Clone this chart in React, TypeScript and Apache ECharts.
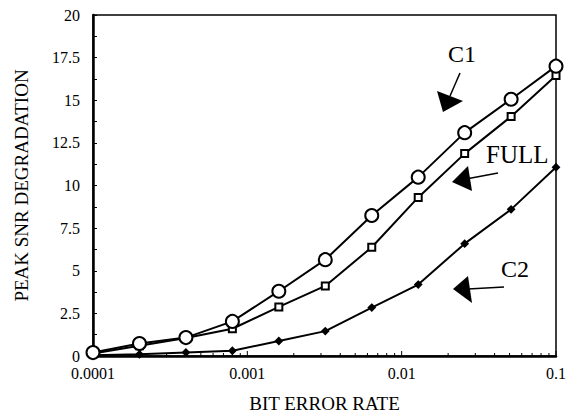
import React, { useEffect, useRef } from "react";
import * as echarts from "echarts";

const berValues = [0.0001, 0.0002, 0.0004, 0.0008, 0.0016, 0.0032, 0.0064, 0.0128, 0.0256, 0.0512, 0.1];
const c1Values = [0.2, 0.73, 1.08, 2.03, 3.8, 5.65, 8.24, 10.49, 13.1, 15.06, 17.0];
const fullValues = [0.15, 0.6, 1.05, 1.6, 2.88, 4.11, 6.38, 9.3, 11.87, 14.05, 16.45];
const c2Values = [0.05, 0.1, 0.21, 0.31, 0.88, 1.46, 2.84, 4.19, 6.59, 8.6, 11.07];
const decades = [0.0001, 0.001, 0.01];
const minorMultipliers = [2, 3, 4, 5, 6, 7, 8, 9];
const majorXTicks = [0.0001, 0.001, 0.01, 0.1];

const FONT = "Liberation Serif";

export default function App() {
  const ref = useRef<HTMLDivElement>(null);
  useEffect(() => {
    if (!ref.current) return;
    const chart = echarts.init(ref.current, null, { renderer: "svg" });
    const pair = (ys: number[]) => berValues.map((x, i) => [x, ys[i]]);
    const minorTicks: number[][] = [];
    decades.forEach((d) => minorMultipliers.forEach((m) => minorTicks.push([d * m, 0, 3])));
    majorXTicks.forEach((d) => minorTicks.push([d, 0, 5]));

    const lineSeries = (name: string, ys: number[], symbol: string, size: number, fill: string) => ({
      type: "line",
      name,
      data: pair(ys),
      symbol,
      symbolSize: size,
      showAllSymbol: true,
      clip: false,
      lineStyle: { color: "#000", width: 2 },
      itemStyle: { color: fill, borderColor: "#000", borderWidth: 2 },
      z: 3,
    });

    chart.setOption({
      animation: false,
      backgroundColor: "#fff",
      grid: {
        left: 93,
        right: 12,
        top: 15,
        bottom: 56,
        show: true,
        borderColor: "#000",
        borderWidth: 1.5,
      },
      xAxis: {
        type: "log",
        logBase: 10,
        min: 0.0001,
        max: 0.1,
        name: "BIT ERROR RATE",
        nameLocation: "middle",
        nameGap: 38,
        nameTextStyle: { fontFamily: FONT, fontSize: 19, color: "#000" },
        axisLine: { show: true, lineStyle: { color: "#000", width: 2.5 } },
        axisTick: { show: false },
        splitLine: { show: false },
        axisLabel: {
          fontFamily: FONT,
          fontSize: 16,
          color: "#000",
          margin: 9,
          formatter: (v: number) => String(Number(v.toPrecision(1))),
        },
      },
      yAxis: {
        type: "value",
        min: 0,
        max: 20,
        interval: 2.5,
        name: "PEAK SNR DEGRADATION",
        nameLocation: "middle",
        nameGap: 62,
        nameTextStyle: { fontFamily: FONT, fontSize: 19, color: "#000" },
        axisLine: { show: true, lineStyle: { color: "#000", width: 2.5 } },
        axisTick: { show: true, inside: true, length: 4, lineStyle: { color: "#000" } },
        minorTick: { show: true, splitNumber: 2, length: 4, lineStyle: { color: "#000" } },
        splitLine: { show: false },
        axisLabel: { fontFamily: FONT, fontSize: 16, color: "#000", margin: 13 },
      },
      series: [
        {
          type: "custom",
          data: minorTicks,
          silent: true,
          z: 1,
          renderItem: (_params: any, api: any) => {
            const p = api.coord([api.value(0), api.value(1)]);
            const len = api.value(2);
            return {
              type: "line",
              shape: { x1: p[0], y1: p[1], x2: p[0], y2: p[1] - len },
              style: { stroke: "#000", lineWidth: 1 },
            };
          },
        },
        lineSeries("C2", c2Values, "diamond", 6, "#000"),
        lineSeries("FULL", fullValues, "rect", 7, "#fff"),
        lineSeries("C1", c1Values, "circle", 13, "#fff"),
      ],
      graphic: [
        { type: "text", left: 448, top: 42, style: { text: "C1", font: `24px ${FONT}`, fill: "#000" } },
        { type: "text", left: 486, top: 142, style: { text: "FULL", font: `25px ${FONT}`, fill: "#000" } },
        { type: "text", left: 501, top: 257, style: { text: "C2", font: `24px ${FONT}`, fill: "#000" } },
        { type: "line", shape: { x1: 460, y1: 73, x2: 450, y2: 96 }, style: { stroke: "#000", lineWidth: 1.5 } },
        { type: "polygon", shape: { points: [[437, 91], [463, 101], [443, 112]] }, style: { fill: "#000" } },
        { type: "line", shape: { x1: 498, y1: 173, x2: 466, y2: 179 }, style: { stroke: "#000", lineWidth: 1.5 } },
        { type: "polygon", shape: { points: [[468, 166], [472, 191], [452, 182]] }, style: { fill: "#000" } },
        { type: "line", shape: { x1: 504, y1: 287, x2: 468, y2: 289 }, style: { stroke: "#000", lineWidth: 1.5 } },
        { type: "polygon", shape: { points: [[468, 276], [472, 303], [453, 289]] }, style: { fill: "#000" } },
      ],
    });
    return () => chart.dispose();
  }, []);
  return <div ref={ref} style={{ width: 569, height: 418, position: "absolute", left: 0, top: 0 }} />;
}
